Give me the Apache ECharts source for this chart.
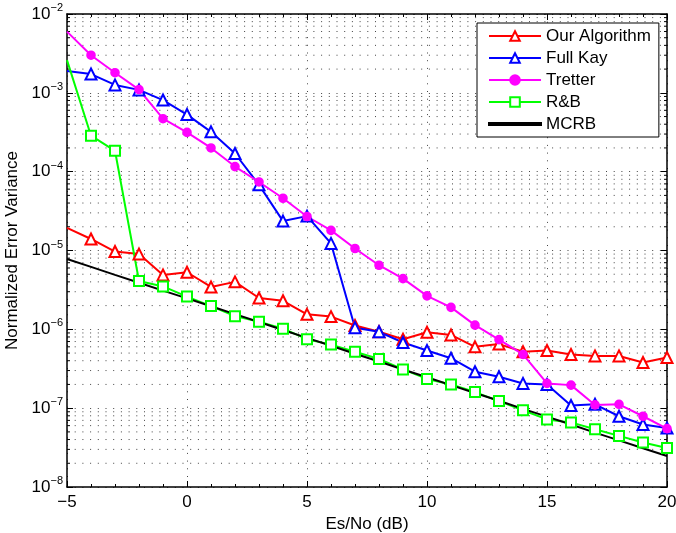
<!DOCTYPE html>
<html><head><meta charset="utf-8">
<script src="https://cdn.jsdelivr.net/npm/echarts@6/dist/echarts.min.js"></script>
<style>html,body{margin:0;padding:0;background:#fff}#c{width:676px;height:533px}</style>
</head><body><div id="c"></div>
<script>
const snr = [-5,-4,-3,-2,-1,0,1,2,3,4,5,6,7,8,9,10,11,12,13,14,15,16,17,18,19,20];
const ourAlgorithm = [1.94e-5,1.40e-5,9.7e-6,9.0e-6,4.9e-6,5.3e-6,3.45e-6,4.0e-6,2.5e-6,2.3e-6,1.55e-6,1.45e-6,1.12e-6,9.3e-7,7.5e-7,9.2e-7,8.5e-7,6.0e-7,6.5e-7,5.2e-7,5.4e-7,4.8e-7,4.6e-7,4.6e-7,3.8e-7,4.4e-7];
const fullKay = [1.89e-3,1.73e-3,1.26e-3,1.09e-3,8.1e-4,5.3e-4,3.2e-4,1.7e-4,6.8e-5,2.36e-5,2.73e-5,1.23e-5,1.05e-6,9.3e-7,6.8e-7,5.4e-7,4.3e-7,2.9e-7,2.5e-7,2.06e-7,2.0e-7,1.08e-7,1.12e-7,7.9e-8,6.2e-8,5.6e-8];
const tretter = [5.97e-3,3.0e-3,1.8e-3,1.1e-3,4.7e-4,3.15e-4,2.0e-4,1.16e-4,7.4e-5,4.6e-5,2.7e-5,1.8e-5,1.06e-5,6.5e-6,4.4e-6,2.66e-6,1.9e-6,1.13e-6,7.4e-7,4.8e-7,2.06e-7,1.96e-7,1.1e-7,1.12e-7,7.9e-8,5.5e-8];
const rb = [2.6e-3,2.86e-4,1.84e-4,4.1e-6,3.5e-6,2.6e-6,1.97e-6,1.47e-6,1.25e-6,1.02e-6,7.5e-7,6.4e-7,5.2e-7,4.2e-7,3.1e-7,2.35e-7,2.0e-7,1.6e-7,1.23e-7,9.4e-8,7.2e-8,6.6e-8,5.4e-8,4.45e-8,3.67e-8,3.13e-8];
const mcrb = [7.8e-6,6.2e-6,4.9e-6,3.9e-6,3.1e-6,2.47e-6,1.96e-6,1.56e-6,1.24e-6,9.8e-7,7.8e-7,6.2e-7,4.9e-7,3.9e-7,3.1e-7,2.47e-7,1.96e-7,1.56e-7,1.24e-7,9.8e-8,7.8e-8,6.2e-8,4.9e-8,3.9e-8,3.1e-8,2.47e-8];
const seriesNames = ['Our Algorithm','Full Kay','Tretter','R&B','MCRB'];
const xTicks = [-5,0,5,10,15,20];
const yDecades = [-8,-7,-6,-5,-4,-3,-2];

const FONT = 'Liberation Sans, Arial, sans-serif';
const chart = echarts.init(document.getElementById('c'), null, {renderer:'canvas'});

function pairs(vals){
  return vals.map((v,i)=> i===0 ? {value:[snr[i],v], symbol:'none'} : [snr[i],v]);
}
const dotted = {color:'#444', width:1, type:[1,6.7]};

// minor log grid values (2..9 of each decade)
const minorVals = [];
for (let d = yDecades[0]; d < yDecades[yDecades.length-1]; d++) {
  for (let k = 2; k <= 9; k++) minorVals.push(k*Math.pow(10,d));
}
const xMin = xTicks[0], xMax = xTicks[xTicks.length-1];

function mkLine(name, data, color, symbol, size, extra){
  return Object.assign({
    name, type:'line', data:pairs(data), symbol, symbolSize:size,
    lineStyle:{color, width:2}, itemStyle:{color, borderColor:color, borderWidth:1.6},
    emphasis:{disabled:true}, animation:false, z:3, clip:false
  }, extra||{});
}

const supLabel = v => {
  const e = Math.round(Math.log10(v));
  return '{b|10}{s|' + (e<0?'\u2212':'') + Math.abs(e) + '}';
};

const option = {
  animation:false,
  textStyle:{fontFamily:FONT},
  grid:{left:67, right:9, top:14, bottom:46, containLabel:false, outerBoundsMode:'none'},
  legend:{
    data:['Our Algorithm','Full Kay','Tretter','R&B',{name:'MCRB', icon:'path://M0,0H52V2H0Z'}],
    orient:'vertical', left:477, top:23,
    padding:[3,8,3,11], itemGap:2, itemWidth:52, itemHeight:12,
    backgroundColor:'#fff', borderColor:'#000', borderWidth:1,
    textStyle:{fontSize:17, fontFamily:FONT, color:'#000', lineHeight:20},
    selectedMode:false
  },
  xAxis:[{
    type:'value', min:xMin, max:xMax, interval:5,
    name:'Es/No (dB)', nameLocation:'middle', nameGap:26,
    nameTextStyle:{fontSize:17, fontFamily:FONT, color:'#000'},
    axisLine:{show:true, onZero:false, lineStyle:{color:'#000', width:1.5}},
    axisTick:{show:true, inside:true, length:6, lineStyle:{color:'#000'}},
    minorTick:{show:true, splitNumber:5, length:3, lineStyle:{color:'#000'}},
    axisLabel:{fontSize:17, fontFamily:FONT, color:'#000', margin:7,
      formatter:v=> (v<0?'\u2212':'') + Math.abs(v)},
    splitLine:{show:true, lineStyle:dotted}
  },{
    type:'value', position:'top', min:xMin, max:xMax, interval:5,
    axisLine:{show:true, onZero:false, lineStyle:{color:'#000', width:1.5}},
    axisTick:{show:true, inside:true, length:6, lineStyle:{color:'#000'}},
    minorTick:{show:true, splitNumber:5, length:3, lineStyle:{color:'#000'}},
    axisLabel:{show:false}, splitLine:{show:false}
  }],
  yAxis:[{
    type:'log', logBase:10, min:1e-8, max:1e-2,
    name:'Normalized Error Variance', nameLocation:'middle', nameGap:44,
    nameTextStyle:{fontSize:17, fontFamily:FONT, color:'#000'},
    axisLine:{show:true, onZero:false, lineStyle:{color:'#000', width:1.5}},
    axisTick:{show:true, inside:true, length:6, lineStyle:{color:'#000'}},
    axisLabel:{margin:4, formatter:supLabel,
      rich:{
        b:{fontSize:17, fontFamily:FONT, color:'#000'},
        s:{fontSize:11, fontFamily:FONT, color:'#000', padding:[0,0,12,0]}
      }},
    splitLine:{show:true, lineStyle:dotted}
  },{
    type:'log', logBase:10, min:1e-8, max:1e-2, position:'right',
    axisLine:{show:true, onZero:false, lineStyle:{color:'#000', width:1.5}},
    axisTick:{show:true, inside:true, length:6, lineStyle:{color:'#000'}},
    axisLabel:{show:false}, splitLine:{show:false}
  }],
  series:[
    {name:'_minorgrid', type:'custom', silent:true, animation:false, z:1, clip:false,
      data: minorVals.map(v=>[xMin, v]),
      encode:{x:0, y:1},
      renderItem:function(params, api){
        const v = api.value(1);
        const p1 = api.coord([xMin, v]);
        const p2 = api.coord([xMax, v]);
        return {type:'group', children:[
          {type:'line', shape:{x1:p1[0], y1:p1[1], x2:p2[0], y2:p2[1]},
            style:{stroke:'#444', lineWidth:1, lineDash:[1,6.7]}},
          {type:'line', shape:{x1:p1[0], y1:p1[1], x2:p1[0]+3, y2:p1[1]},
            style:{stroke:'#000', lineWidth:1}},
          {type:'line', shape:{x1:p2[0]-3, y1:p2[1], x2:p2[0], y2:p2[1]},
            style:{stroke:'#000', lineWidth:1}}
        ]};
      }},
    mkLine('Our Algorithm', ourAlgorithm, '#ff0000', 'emptyTriangle', 11),
    mkLine('Full Kay', fullKay, '#0000ff', 'emptyTriangle', 11),
    mkLine('Tretter', tretter, '#ff00ff', 'circle', 8),
    mkLine('R&B', rb, '#00ff00', 'emptyRect', 10),
    mkLine('MCRB', mcrb, '#000000', 'none', 0)
  ]
};
chart.setOption(option);
</script></body></html>
